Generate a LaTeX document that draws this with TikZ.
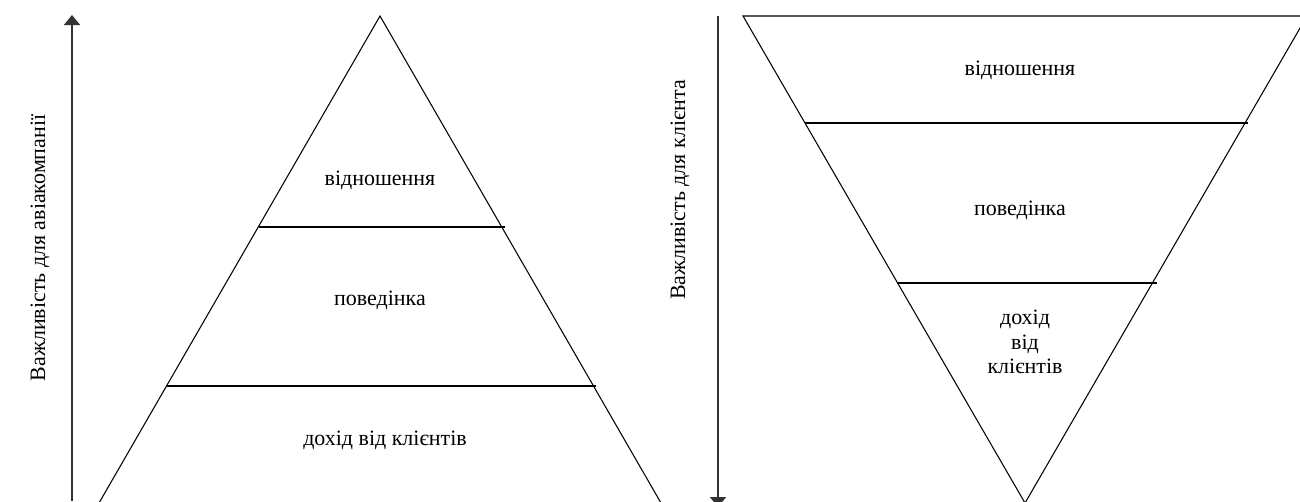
\documentclass[tikz,border=0pt]{standalone}
\usepackage{fontspec}
\setmainfont{Liberation Serif}
\usetikzlibrary{arrows.meta, calc}

\begin{document}
\begin{tikzpicture}[x=0.02cm, y=-0.02cm,
  font=\fontsize{12.5}{13.8}\selectfont,
  edge/.style={draw=black, line width=0.6pt},
  axis/.style={draw=black!80, line width=0.9pt, -{Triangle[length=2mm,width=3.2mm]}},
  layer/.style={align=center, inner sep=1pt},
  axislabel/.style={rotate=90, inner sep=1pt}
]
\useasboundingbox (0,0) rectangle (1300,501);
\clip (0,0) rectangle (1300,501);

% left pyramid
\coordinate (lTop) at (380,16);
\coordinate (lBL)  at (99,503);
\coordinate (lBR)  at (661,503);
\draw[edge] (lBL) -- (lTop) -- (lBR);
\draw[edge] (259,227) -- (505,227);
\draw[edge] (167,386) -- (596,386);

\node[layer] (lRel)  at (380,180) {відношення};
\node[layer] (lBeh)  at (380,300) {поведінка};
\node[layer] (lInc)  at (385,440) {дохід від клієнтів};

% left axis
\coordinate (lAxisLow)  at (72,501);
\coordinate (lAxisHigh) at (72,15);
\draw[axis] (lAxisLow) -- (lAxisHigh);
\node[axislabel] (lAxisText) at (40,248) {Важливість для авіакомпанії};

% right pyramid
\coordinate (rTL)  at (743,16);
\coordinate (rTR)  at (1307,16);
\coordinate (rBot) at (1025,503);
\draw[edge] (rTL) -- (rTR) -- (rBot) -- cycle;
\draw[edge] (805,123) -- (1248,123);
\draw[edge] (897,283) -- (1157,283);

\node[layer] (rRel) at (1020,70)  {відношення};
\node[layer] (rBeh) at (1020,210) {поведінка};
\node[layer] (rInc) at (1025,342) {дохід\\від\\клієнтів};

% right axis
\coordinate (rAxisHigh) at (718,16);
\coordinate (rAxisLow)  at (718,507);
\draw[axis] (rAxisHigh) -- (rAxisLow);
\node[axislabel] (rAxisText) at (680,190) {Важливість для клієнта};

\end{tikzpicture}
\end{document}
